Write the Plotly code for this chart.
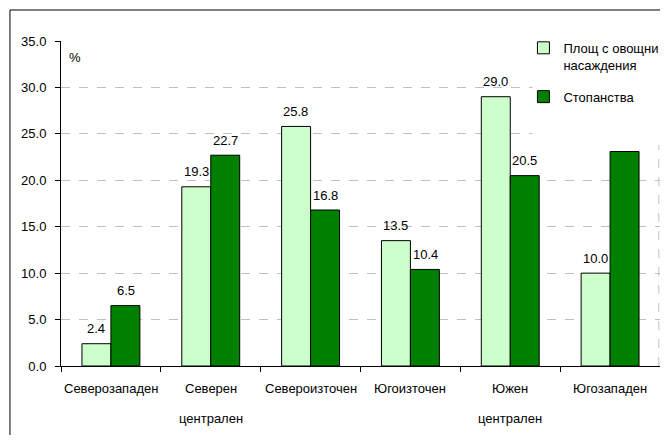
import plotly.graph_objects as go

categories = ["Северозападен", "Северен централен", "Североизточен", "Югоизточен", "Южен централен", "Югозападен"]
label_line1 = ["Северозападен", "Северен", "Североизточен", "Югоизточен", "Южен", "Югозападен"]
label_line2 = ["", "централен", "", "", "централен", ""]
area_values = [2.4, 19.3, 25.8, 13.5, 29.0, 10.0]
farm_values = [6.5, 22.7, 16.8, 10.4, 20.5, 23.1]
area_labels = ["2.4", "19.3", "25.8", "13.5", "29.0", "10.0"]
farm_labels = ["6.5", "22.7", "16.8", "10.4", "20.5", ""]
series_names = ["Площ с овощни<br>насаждения", "Стопанства"]
y_ticks = [0, 5, 10, 15, 20, 25, 30, 35]

FONT = "Liberation Sans, Arial, sans-serif"
TF = dict(size=13, color="black", family=FONT)

fig = go.Figure()
fig.add_trace(go.Bar(
    x=categories, y=area_values, name=series_names[0],
    marker=dict(color="#CCFFCC", line=dict(color="black", width=1)),
    legendgroup="a",
))
fig.add_trace(go.Bar(
    x=categories, y=farm_values, name=series_names[1],
    marker=dict(color="#008000", line=dict(color="black", width=1)),
    legendgroup="b",
))

annotations = []
for c, v, t in zip(categories, area_values, area_labels):
    if t:
        annotations.append(dict(x=c, y=v, xref="x", yref="y", text=t, showarrow=False,
                                xshift=-14.6, yshift=15, yanchor="middle", font=TF))
for c, v, t in zip(categories, farm_values, farm_labels):
    if t:
        annotations.append(dict(x=c, y=v, xref="x", yref="y", text=t, showarrow=False,
                                xshift=14.6, yshift=15, yanchor="middle", font=TF))
for c, l1, l2 in zip(categories, label_line1, label_line2):
    annotations.append(dict(x=c, y=-0.068, xref="x", yref="paper", text=l1, showarrow=False,
                            yanchor="middle", font=TF))
    if l2:
        annotations.append(dict(x=c, y=-0.160, xref="x", yref="paper", text=l2, showarrow=False,
                                yanchor="middle", font=TF))
annotations.append(dict(x=0.023, y=0.95, xref="paper", yref="paper", text="%", showarrow=False,
                        xanchor="center", yanchor="middle", font=TF))

shapes = [
    dict(type="line", xref="paper", yref="paper", x0=0.998, x1=0.998, y0=0, y1=1,
         line=dict(color="#c0c0c0", width=1, dash="dash"), layer="above"),
    dict(type="rect", xref="paper", yref="paper", x0=0.787, x1=1.02, y0=0.68, y1=1.02,
         fillcolor="white", line=dict(width=0), layer="above"),
    dict(type="line", xref="paper", yref="paper", x0=-0.0852, x1=-0.0852, y0=-0.25, y1=1.0954,
         line=dict(color="black", width=1), layer="above"),
    dict(type="line", xref="paper", yref="paper", x0=-0.0852, x1=1.02, y0=1.0954, y1=1.0954,
         line=dict(color="black", width=1), layer="above"),
]

fig.update_layout(
    width=652, height=427,
    margin=dict(l=53, r=0, t=33, b=69, autoexpand=False),
    paper_bgcolor="white", plot_bgcolor="white",
    font=dict(family=FONT, size=13, color="black"),
    barmode="group", bargap=0.42, bargroupgap=0,
    showlegend=True,
    legend=dict(x=0.772, y=1.025, xanchor="left", yanchor="top", valign="top",
                bgcolor="rgba(0,0,0,0)", font=TF,
                tracegroupgap=12, traceorder="grouped"),
    annotations=annotations,
    shapes=shapes,
)
fig.update_xaxes(showline=True, linecolor="black", linewidth=1, ticks="outside", ticklen=5,
                 tickcolor="black", tickson="boundaries", showticklabels=False, showgrid=False,
                 zeroline=False)
fig.update_yaxes(range=[0, 35], tickvals=y_ticks, ticktext=[f"{v:.1f}" for v in y_ticks],
                 showline=True, linecolor="black", linewidth=1, ticks="outside", ticklen=5,
                 tickcolor="black", showgrid=True, gridcolor="#c0c0c0", griddash="dash",
                 gridwidth=1, zeroline=False, ticklabelstandoff=6,
                 tickfont=TF)

fig.write_html("out.html")
